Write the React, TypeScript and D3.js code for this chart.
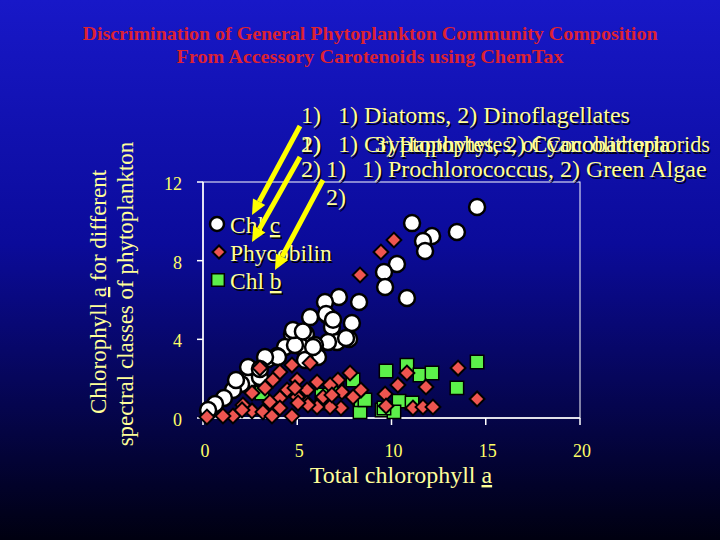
//@ts-nocheck
import React, {useEffect, useRef} from 'react';
import * as d3 from 'd3';

const titleLines = [
    'Discrimination of General Phytoplankton Community Composition',
    'From Accessory Carotenoids using ChemTax'
];
const xTicks = [0, 5, 10, 15, 20];
const yTicks = [0, 4, 8, 12];

// Chl c (circles)
const chlC = [
    [14.54, 10.73], [11.09, 9.91], [13.47, 9.46], [12.15, 9.25], [11.67, 9.0], [11.78, 8.49],
    [10.29, 7.83], [9.6, 7.42], [9.66, 6.66], [10.82, 6.1], [7.21, 6.15], [6.47, 5.9],
    [8.28, 5.9], [6.63, 5.19], [5.68, 5.13], [7.9, 4.83], [6.84, 4.63], [5.46, 4.27],
    [4.72, 4.27], [7.75, 4.02], [7.11, 3.86], [6.63, 3.86], [5.94, 3.71], [5.15, 3.66],
    [4.35, 3.61], [3.93, 3.15], [3.45, 3.0], [6.1, 3.1], [5.41, 2.95], [2.49, 1.98],
    [3.02, 2.08], [2.02, 1.73], [1.59, 1.42], [1.11, 1.02], [0.64, 0.71], [2.39, 2.59],
    [4.88, 3.71], [5.84, 3.61], [3.98, 3.1], [3.29, 3.1], [7.59, 4.07], [6.53, 5.29],
    [4.77, 4.47], [3.02, 2.49], [1.75, 1.93], [0.27, 0.41], [6.9, 5.0], [5.3, 4.4]
];

// Phycobilin (diamonds)
const phycobilin = [
    [10.13, 9.05], [9.44, 8.44], [8.33, 7.27], [13.53, 2.54], [14.54, 0.97], [10.82, 2.29],
    [10.34, 1.68], [11.83, 1.58], [9.66, 1.22], [9.71, 0.61], [11.14, 0.51], [11.67, 0.56],
    [12.2, 0.56], [7.8, 2.29], [7.16, 1.93], [6.74, 1.68], [8.38, 1.42], [7.96, 1.07],
    [7.37, 1.32], [7.32, 0.51], [6.74, 0.56], [5.68, 2.8], [4.72, 2.69], [3.02, 2.54],
    [4.08, 2.34], [3.71, 1.93], [4.99, 1.93], [6.05, 1.83], [4.46, 1.42], [5.52, 1.42],
    [3.29, 1.53], [4.08, 1.02], [4.99, 1.07], [2.6, 1.27], [2.12, 0.66], [2.6, 0.36],
    [3.18, 0.31], [4.08, 0.51], [4.72, 0.1], [1.59, 0.1], [1.06, 0.1], [0.21, 0.05],
    [3.66, 0.1], [6.05, 0.56], [5.52, 0.76], [6.37, 1.07], [4.88, 1.53], [6.84, 1.17],
    [5.57, 0.66], [5.04, 0.76], [3.55, 0.81], [2.07, 0.41]
];

// Chl b (squares)
const chlB = [
    [14.54, 2.85], [13.47, 1.53], [9.71, 2.39], [10.82, 2.69], [11.51, 2.19], [12.15, 2.29],
    [10.4, 0.86], [11.09, 0.76], [9.5, 0.41], [10.13, 0.31], [8.33, 0.31], [7.96, 1.93],
    [8.38, 0.92], [7.11, 1.42], [6.31, 1.17], [3.13, 1.27], [6.37, 0.76], [8.59, 0.92],
    [9.6, 0.51]
];

const legendItems = [
    {pre: 'Chl ', u: 'c', shape: 'circle'},
    {pre: 'Phycobilin', u: '', shape: 'diamond'},
    {pre: 'Chl ', u: 'b', shape: 'square'}
];

const App = () => {
    const svgRef = useRef(null);

    useEffect(() => {
        const svg = d3.select(svgRef.current);
        svg.selectAll('*').remove();

        const width = 720;
        const height = 540;
        const serif = '"Liberation Serif", "Times New Roman", serif';
        const textColor = '#ffff99';
        const tickColor = '#ffff66';

        const defs = svg.append('defs');
        const grad = defs.append('linearGradient')
            .attr('id', 'bg')
            .attr('x1', 0).attr('y1', 0).attr('x2', 0).attr('y2', 1);
        grad.append('stop').attr('offset', '0%').attr('stop-color', '#1818c8');
        grad.append('stop').attr('offset', '45%').attr('stop-color', '#0b0b9a');
        grad.append('stop').attr('offset', '100%').attr('stop-color', '#000010');

        svg.append('rect')
            .attr('width', width)
            .attr('height', height)
            .attr('fill', 'url(#bg)');

        const x = d3.scaleLinear().domain([0, 20]).range([203, 580]);
        const y = d3.scaleLinear().domain([0, 12]).range([418, 182]);

        // title
        svg.selectAll('text.title')
            .data(titleLines)
            .enter().append('text')
            .attr('class', 'title')
            .attr('x', 370)
            .attr('y', (d, i) => 40 + i * 23)
            .attr('text-anchor', 'middle')
            .attr('font-family', serif)
            .attr('font-weight', 'bold')
            .attr('font-size', 19)
            .attr('textLength', (d, i) => i === 0 ? 575 : 387)
            .attr('lengthAdjust', 'spacingAndGlyphs')
            .attr('fill', '#dc2232')
            .text(d => d);

        // frame
        svg.append('rect')
            .attr('x', x(0))
            .attr('y', y(12))
            .attr('width', x(20) - x(0))
            .attr('height', y(0) - y(12))
            .attr('fill', 'none')
            .attr('stroke', '#ffffff')
            .attr('stroke-width', 1);

        // axes
        const gx = svg.append('g').attr('transform', `translate(0,${y(0)})`);
        gx.append('line').attr('x1', x(0)).attr('x2', x(20)).attr('stroke', '#fff').attr('stroke-width', 1.5);
        gx.selectAll('line.tick').data(xTicks).enter().append('line')
            .attr('class', 'tick')
            .attr('x1', d => x(d)).attr('x2', d => x(d))
            .attr('y1', 0).attr('y2', 7)
            .attr('stroke', '#fff').attr('stroke-width', 1.5);
        gx.selectAll('text').data(xTicks).enter().append('text')
            .attr('x', d => x(d) + 2)
            .attr('y', 39)
            .attr('text-anchor', 'middle')
            .attr('font-family', serif)
            .attr('font-size', 18)
            .attr('fill', tickColor)
            .text(d => d);

        const gy = svg.append('g').attr('transform', `translate(${x(0)},0)`);
        gy.append('line').attr('y1', y(0)).attr('y2', y(12)).attr('stroke', '#fff').attr('stroke-width', 1.5);
        gy.selectAll('line.tick').data(yTicks).enter().append('line')
            .attr('class', 'tick')
            .attr('y1', d => y(d)).attr('y2', d => y(d))
            .attr('x1', -6).attr('x2', 0)
            .attr('stroke', '#fff').attr('stroke-width', 1.5);
        gy.selectAll('text').data(yTicks).enter().append('text')
            .attr('x', -21)
            .attr('y', d => y(d) + 8)
            .attr('text-anchor', 'end')
            .attr('font-family', serif)
            .attr('font-size', 18)
            .attr('fill', tickColor)
            .text(d => d);

        // axis titles
        const xt = svg.append('text')
            .attr('x', 401)
            .attr('y', 483)
            .attr('text-anchor', 'middle')
            .attr('font-family', serif)
            .attr('font-size', 24)
            .attr('fill', textColor);
        xt.append('tspan').text('Total chlorophyll ');
        xt.append('tspan').attr('text-decoration', 'underline').text('a');

        const yt1 = svg.append('text')
            .attr('transform', 'translate(106,292) rotate(-90)')
            .attr('text-anchor', 'middle')
            .attr('font-family', serif)
            .attr('font-size', 23)
            .attr('fill', textColor);
        yt1.append('tspan').text('Chlorophyll ');
        yt1.append('tspan').attr('text-decoration', 'underline').text('a');
        yt1.append('tspan').text(' for different');
        svg.append('text')
            .attr('transform', 'translate(133,294) rotate(-90)')
            .attr('text-anchor', 'middle')
            .attr('font-family', serif)
            .attr('font-size', 23)
            .attr('fill', textColor)
            .text('spectral classes of phytoplankton');

        // markers
        const square = d3.symbol().type(d3.symbolSquare);
        svg.append('g').selectAll('path')
            .data(chlB)
            .enter().append('path')
            .attr('transform', d => `translate(${x(d[0])},${y(d[1])})`)
            .attr('d', square.size(180)())
            .attr('fill', '#5cf04a')
            .attr('stroke', '#000')
            .attr('stroke-width', 1.5);

        svg.append('g').selectAll('circle')
            .data(chlC)
            .enter().append('circle')
            .attr('cx', d => x(d[0]))
            .attr('cy', d => y(d[1]))
            .attr('r', 8)
            .attr('fill', '#ffffff')
            .attr('stroke', '#000')
            .attr('stroke-width', 2.5);

        svg.append('g').selectAll('path')
            .data(phycobilin)
            .enter().append('path')
            .attr('transform', d => `translate(${x(d[0])},${y(d[1])}) rotate(45)`)
            .attr('d', square.size(110)())
            .attr('fill', '#ee5550')
            .attr('stroke', '#000')
            .attr('stroke-width', 2);

        // legend
        const leg = svg.append('g');
        legendItems.forEach((item, i) => {
            const cy = 224 + i * 28;
            if (item.shape === 'circle') {
                leg.append('circle').attr('cx', 217).attr('cy', cy).attr('r', 7)
                    .attr('fill', '#fff').attr('stroke', '#000').attr('stroke-width', 2.5);
            } else if (item.shape === 'diamond') {
                leg.append('path').attr('transform', `translate(219,${cy}) rotate(45)`)
                    .attr('d', square.size(85)())
                    .attr('fill', '#ee5550').attr('stroke', '#000').attr('stroke-width', 2);
            } else {
                leg.append('path').attr('transform', `translate(218,${cy})`)
                    .attr('d', square.size(160)())
                    .attr('fill', '#5cf04a').attr('stroke', '#000').attr('stroke-width', 1.5);
            }
            [['#000', 1.5], [textColor, 0]].forEach(([c, off]) => {
                const t = leg.append('text')
                    .attr('x', 230 + off)
                    .attr('y', cy + 9 + off)
                    .attr('font-family', serif)
                    .attr('font-size', 23.5)
                    .attr('fill', c);
                t.append('tspan').text(item.pre);
                if (item.u) t.append('tspan').attr('text-decoration', 'underline').text(item.u);
            });
        });

        // annotation text
        const notes = [
            {x: 301, y: 123, t: '1)'},
            {x: 338, y: 123, t: '1) Diatoms, 2) Dinoflagellates'},
            {x: 301, y: 152, t: '1)'},
            {x: 301, y: 152, t: '2)'},
            {x: 338, y: 152, t: '1) Cryptophytes, 2) Cyanobacteria'},
            {x: 375, y: 152, t: '3) Haptophytes, of Coccolithophorids', len: 335},
            {x: 301, y: 177, t: '2)'},
            {x: 326, y: 177, t: '1)'},
            {x: 362, y: 177, t: '1) Prochlorococcus, 2) Green Algae'},
            {x: 326, y: 205, t: '2)'}
        ];
        const ng = svg.append('g')
            .attr('font-family', serif)
            .attr('font-size', 24);
        ['shadow', 'note'].forEach((cls, k) => {
            ng.selectAll('text.' + cls).data(notes).enter().append('text')
                .attr('class', cls)
                .attr('x', d => d.x + (k ? 0 : 1.5))
                .attr('y', d => d.y + (k ? 0 : 1.5))
                .attr('fill', k ? textColor : '#000020')
                .each(function (d) {
                    if (d.len) d3.select(this).attr('textLength', d.len).attr('lengthAdjust', 'spacingAndGlyphs');
                })
                .text(d => d.t);
        });

        // arrows
        const arrows = [
            [[300, 126], [252, 215]],
            [[300, 157], [252, 242]],
            [[323, 180], [275, 270]]
        ];
        arrows.forEach(([a, b]) => {
            const ang = Math.atan2(b[1] - a[1], b[0] - a[0]);
            const len = 15;
            const hw = 7;
            const bx = b[0] - len * Math.cos(ang);
            const by = b[1] - len * Math.sin(ang);
            svg.append('line')
                .attr('x1', a[0]).attr('y1', a[1])
                .attr('x2', bx).attr('y2', by)
                .attr('stroke', '#ffff00')
                .attr('stroke-width', 5);
            const px = -Math.sin(ang) * hw;
            const py = Math.cos(ang) * hw;
            svg.append('path')
                .attr('d', d3.line()([[b[0], b[1]], [bx + px, by + py], [bx - px, by - py]]) + 'Z')
                .attr('fill', '#ffff00');
        });
    }, []);

    return (
        <svg ref={svgRef} width={720} height={540}
             style={{position: 'absolute', left: 0, top: 0}}/>
    );
};

export default App;
